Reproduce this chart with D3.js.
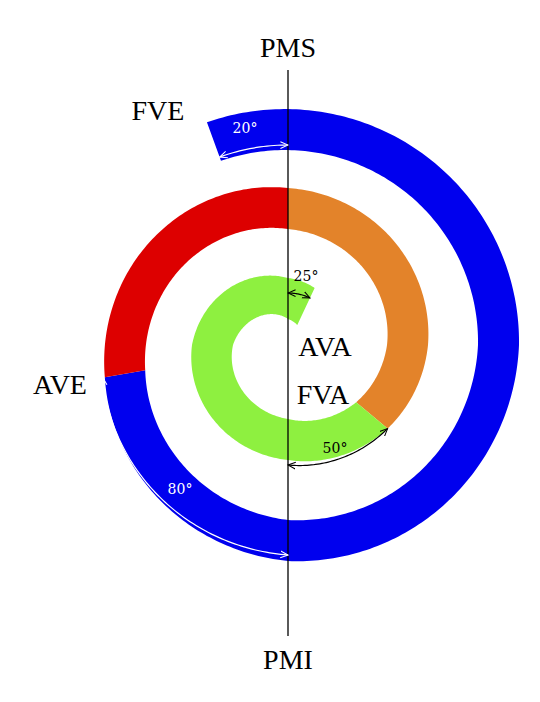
<!DOCTYPE html>
<html><head><meta charset="utf-8">
<script src="https://cdn.jsdelivr.net/npm/d3@7"></script>
<style>body{margin:0;background:#fff}</style>
</head><body><div id="chart"></div>
<script>
// valve timing spiral, angles in degrees clockwise from PMS (top)
var spiralAngles = [-20, 90, 180, 260, 360, 450, 490, 540, 630, 720, 745];
var spiralOuter  = [237, 231, 216, 186, 157, 140, 130, 115, 96, 67, 63];
var segNames   = ["admission", "compression", "detente", "echappement"];
var segStart   = [-20, 260, 360, 490];
var segEnd     = [260, 360, 490, 745];
var segColors  = ["#0000ee", "#dd0000", "#e3832a", "#8ef040"];
var bandWidth  = 41;

var noteFrom   = [-20, 260, 180, 0];
var noteTo     = [0, 180, 130, 25];
var noteR0     = [200, 188, 120, 52];
var noteR1     = [200, 210, 130, 52];
var noteText   = ["20°", "80°", "50°", "25°"];
var noteColor  = ["#fff", "#fff", "#000", "#000"];
var noteLabelXY= [[245,133],[180,494],[335,453],[306,281]];

var labels     = ["PMS", "PMI", "FVE", "AVE", "AVA", "FVA"];
var labelXY    = [[288,57],[288,669],[158,120],[60,394],[325,356],[323,404]];

var W = 540, H = 702, cx = 288, cy = 345;
var svg = d3.select("#chart").append("svg").attr("width", W).attr("height", H);
var g = svg.append("g").attr("transform", "translate(" + cx + "," + cy + ")");
var rad = d3.scaleLinear().domain([0, 360]).range([0, 2 * Math.PI]);
var rOuter = d3.scaleLinear().domain(spiralAngles).range(spiralOuter);

var area = d3.areaRadial()
	.angle(function(d){ return rad(d.a); })
	.outerRadius(function(d){ return rOuter(d.a); })
	.innerRadius(function(d){ return rOuter(d.a) - bandWidth; });

segNames.forEach(function(n, i){
	var pts = d3.range(segStart[i], segEnd[i] + 0.5, 1).map(function(a){ return {a: a}; });
	g.append("path").attr("class", "seg " + n).attr("d", area(pts)).attr("fill", segColors[i]);
});

["#fff", "#000"].forEach(function(c, k){
	svg.append("defs").append("marker")
		.attr("id", "arr" + k).attr("viewBox", "0 -5 10 10").attr("refX", 9).attr("refY", 0)
		.attr("markerWidth", 7).attr("markerHeight", 7).attr("orient", "auto-start-reverse")
		.append("path").attr("d", "M0,-4 L9,0 L0,4").attr("fill", "none").attr("stroke", c).attr("stroke-width", 1.2);
});

g.append("line").attr("x1", 0).attr("x2", 0).attr("y1", 70 - cy).attr("y2", 636 - cy)
	.attr("stroke", "#000").attr("stroke-width", 1.3);

var line = d3.lineRadial().angle(function(d){ return rad(d.a); }).radius(function(d){ return d.r; });
noteText.forEach(function(t, i){
	var s = noteFrom[i], e = noteTo[i];
	var nr = d3.scaleLinear().domain([s, e]).range([noteR0[i], noteR1[i]]);
	var pts = d3.range(0, Math.abs(e - s) + 0.5, 1).map(function(k){
		var a = s + (e > s ? k : -k); return {a: a, r: nr(a)};
	});
	var m = noteColor[i] == "#fff" ? "url(#arr0)" : "url(#arr1)";
	g.append("path").attr("d", line(pts)).attr("fill", "none").attr("stroke", noteColor[i])
		.attr("stroke-width", 1.2).attr("marker-start", m).attr("marker-end", m);
	svg.append("text").attr("x", noteLabelXY[i][0]).attr("y", noteLabelXY[i][1])
		.attr("text-anchor", "middle").attr("font-family", "DejaVu Serif").attr("font-size", 14)
		.attr("fill", noteColor[i]).text(t);
});

labels.forEach(function(l, i){
	svg.append("text").attr("x", labelXY[i][0]).attr("y", labelXY[i][1])
		.attr("text-anchor", "middle").attr("font-family", "Liberation Serif").attr("font-size", 28)
		.attr("fill", "#000").text(l);
});
</script></body></html>
